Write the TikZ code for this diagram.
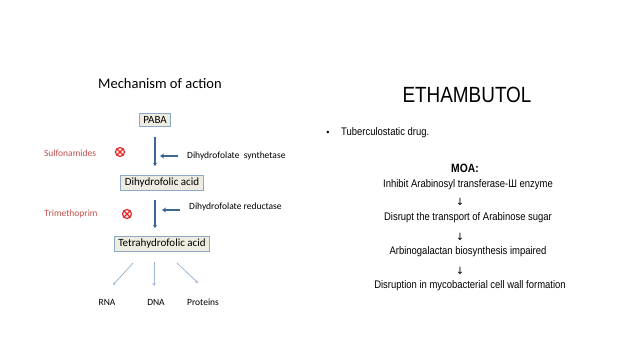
\documentclass[tikz,border=0pt]{standalone}
\usepackage{fontspec}
\setmainfont{Carlito}
\newfontfamily\arialn[FakeStretch=0.86]{Liberation Sans}
\newfontfamily\arialw{Liberation Sans}
\newfontfamily\dejavu{DejaVu Sans}
\usetikzlibrary{arrows.meta}
\definecolor{boxfill}{HTML}{EEECE1}
\definecolor{boxline}{HTML}{8EA9C8}
\definecolor{darkarrow}{HTML}{3F6595}
\definecolor{lightarrow}{HTML}{9DB5D0}
\definecolor{drugred}{HTML}{C0504D}
\definecolor{xred}{HTML}{E3262A}
\tikzset{
  stagebox/.style={draw=boxline, line width=1pt, fill=boxfill, inner xsep=4pt, inner ysep=2.5pt, font=\fontsize{11}{13}\selectfont},
  sidelabel/.style={anchor=west, inner sep=0pt, font=\fontsize{9.5}{11}\selectfont},
  druglabel/.style={inner sep=0pt, text=drugred, font=\fontsize{9.5}{11}\selectfont},
  block/.style={circle, draw=xred, line width=1.2pt, minimum size=9pt, inner sep=0pt,
    path picture={\draw[xred, line width=1.1pt] (path picture bounding box.north west) -- (path picture bounding box.south east) (path picture bounding box.north east) -- (path picture bounding box.south west);}},
  mainflow/.style={darkarrow, line width=1.8pt, -{Stealth[length=3pt,width=4pt]}},
  enzarrow/.style={darkarrow, line width=1.6pt, -{Stealth[length=4pt,width=5pt]}},
  product/.style={lightarrow, line width=0.8pt, -{Stealth[length=3pt,width=3pt]}},
  prodlabel/.style={inner sep=0pt, font=\fontsize{9.5}{11}\selectfont},
  moatext/.style={inner sep=0pt, font=\arialn\fontsize{11}{13}\selectfont},
  moaarrow/.style={inner sep=0pt, font=\dejavu\fontsize{10}{11}\selectfont}
}
\begin{document}
\begin{tikzpicture}[x=1pt,y=-1pt]
\useasboundingbox[fill=white] (0,0) rectangle (638,359);
% left panel
\node[inner sep=0pt, font=\fontsize{14.5}{17}\selectfont] (title) at (160,84) {Mechanism of action};
\node[stagebox] (paba) at (155,120) {PABA};
\node[stagebox] (dhf) at (162,183) {Dihydrofolic acid};
\node[stagebox] (thf) at (162,244) {Tetrahydrofolic acid};
\coordinate (m1a) at (155,137); \coordinate (m1b) at (155,166);
\draw[mainflow] (m1a) -- (m1b);
\coordinate (m2a) at (155,200); \coordinate (m2b) at (155,228);
\draw[mainflow] (m2a) -- (m2b);
\node[sidelabel] (syn) at (187,156) {Dihydrofolate\ \ synthetase};
\node[sidelabel] (red) at (189,207) {Dihydrofolate reductase};
\coordinate (e1) at (160,156); \coordinate (e2) at (162,210);
\coordinate (e1s) at (178,156); \coordinate (e2s) at (180,210);
\draw[enzarrow] (e1s) -- (e1);
\draw[enzarrow] (e2s) -- (e2);
\node[druglabel] (sulfa) at (70,153) {Sulfonamides};
\node[druglabel] (trim) at (71,214) {Trimethoprim};
\node[block] (x1) at (120,152) {};
\node[block] (x2) at (127,214) {};
\node[prodlabel] (rna) at (107,302) {RNA};
\node[prodlabel] (dna) at (156,302) {DNA};
\node[prodlabel] (prot) at (203,302) {Proteins};
\coordinate (p1a) at (133,263); \coordinate (p1b) at (113,285);
\coordinate (p2a) at (154,262); \coordinate (p2b) at (154,286);
\coordinate (p3a) at (177,263); \coordinate (p3b) at (198,283);
\draw[product] (p1a) -- (p1b);
\draw[product] (p2a) -- (p2b);
\draw[product] (p3a) -- (p3b);
% right panel
\node[inner sep=0pt, font=\arialn\fontsize{22}{25}\selectfont] (etham) at (467,95) {ETHAMBUTOL};
\node[inner sep=0pt, font=\arialw\fontsize{9}{10}\selectfont] (bullet) at (328,133) {•};
\node[anchor=west, inner sep=0pt, font=\arialn\fontsize{11}{13}\selectfont] (tub) at (341,133) {Tuberculostatic drug.};
\node[inner sep=0pt, font=\arialn\bfseries\fontsize{12}{14}\selectfont] (moa) at (465,168) {MOA:};
\node[moatext] (s1) at (468,185) {Inhibit Arabinosyl transferase-Ш enzyme};
\node[moaarrow] (a1) at (460,202) {↓};
\node[moatext] (s2) at (468,218) {Disrupt the transport of Arabinose sugar};
\node[moaarrow] (a2) at (460,237) {↓};
\node[moatext] (s3) at (468,252) {Arbinogalactan biosynthesis impaired};
\node[moaarrow] (a3) at (460,271) {↓};
\node[moatext] (s4) at (470,286) {Disruption in mycobacterial cell wall formation};
\end{tikzpicture}
\end{document}
